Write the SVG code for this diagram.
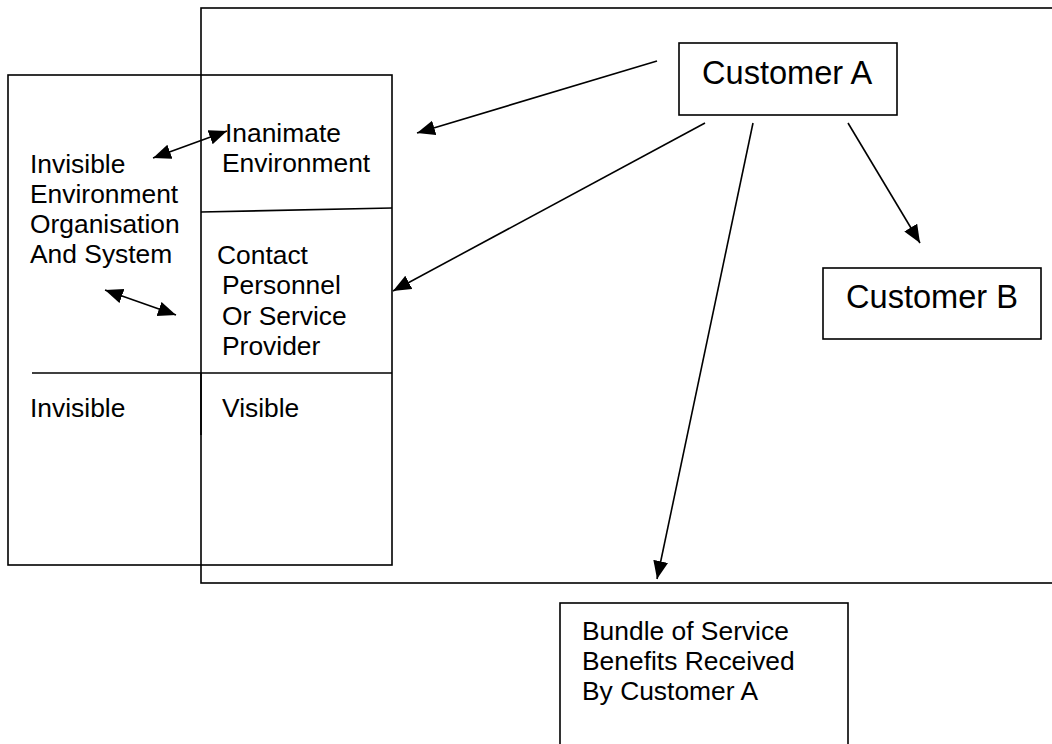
<svg xmlns="http://www.w3.org/2000/svg" width="1052" height="744" viewBox="0 0 1052 744">
<style>
.box{fill:none;stroke:#000;stroke-width:1.6}
.ln{fill:none;stroke:#000;stroke-width:1.6}
.t{font-family:"Liberation Sans",Arial,sans-serif;font-size:26.4px;fill:#000}
.tb{font-family:"Liberation Sans",Arial,sans-serif;font-size:32.6px;fill:#000}
</style>
<defs>
<marker id="ah" markerUnits="userSpaceOnUse" markerWidth="20" markerHeight="16" refX="18" refY="7.5" orient="auto-start-reverse" viewBox="0 0 20 16">
<path d="M0,0 L18,7.5 L0,15 Z" fill="#000"/>
</marker>
</defs>
<rect width="1052" height="744" fill="#fff"/>
<g id="outer-frame">
<rect class="box" x="201" y="8" width="900" height="575"/>
</g>
<g id="left-box">
<rect class="box" x="8" y="75" width="384" height="490"/>
<line class="ln" x1="201" y1="212" x2="392" y2="208"/>
<line class="ln" x1="32" y1="373" x2="392" y2="373"/>
<line class="ln" x1="201" y1="373" x2="201" y2="435" stroke-width="2"/>
</g>
<g id="invisible-environment">
<text class="t" x="30" y="173">Invisible</text>
<text class="t" x="30" y="203">Environment</text>
<text class="t" x="30" y="233">Organisation</text>
<text class="t" x="30" y="263">And System</text>
</g>
<g id="inanimate-environment">
<text class="t" x="225" y="142">Inanimate</text>
<text class="t" x="222" y="172">Environment</text>
</g>
<g id="contact-personnel">
<text class="t" x="217" y="264">Contact</text>
<text class="t" x="222" y="294">Personnel</text>
<text class="t" x="222" y="325">Or Service</text>
<text class="t" x="222" y="355">Provider</text>
</g>
<g id="invisible-label">
<text class="t" x="30" y="417">Invisible</text>
</g>
<g id="visible-label">
<text class="t" x="222" y="417">Visible</text>
</g>
<g id="customer-a">
<rect class="box" x="679" y="43" width="218" height="72"/>
<text class="tb" x="702" y="84">Customer A</text>
</g>
<g id="customer-b">
<rect class="box" x="823" y="268" width="218" height="71"/>
<text class="tb" x="846" y="308">Customer B</text>
</g>
<g id="bundle">
<rect class="box" x="560" y="603" width="288" height="160"/>
<text class="t" x="582" y="640">Bundle of Service</text>
<text class="t" x="582" y="670">Benefits Received</text>
<text class="t" x="582" y="700">By Customer A</text>
</g>
<g id="connectors">
<line class="ln" x1="657" y1="61" x2="417" y2="133" marker-end="url(#ah)"/>
<line class="ln" x1="705" y1="123" x2="393" y2="291" marker-end="url(#ah)"/>
<line class="ln" x1="848" y1="123" x2="920" y2="243" marker-end="url(#ah)"/>
<line class="ln" x1="753" y1="123" x2="657" y2="579" marker-end="url(#ah)"/>
<line class="ln" x1="153" y1="158" x2="227" y2="131" marker-start="url(#ah)" marker-end="url(#ah)"/>
<line class="ln" x1="105" y1="290" x2="176" y2="315" marker-start="url(#ah)" marker-end="url(#ah)"/>
</g>
</svg>
